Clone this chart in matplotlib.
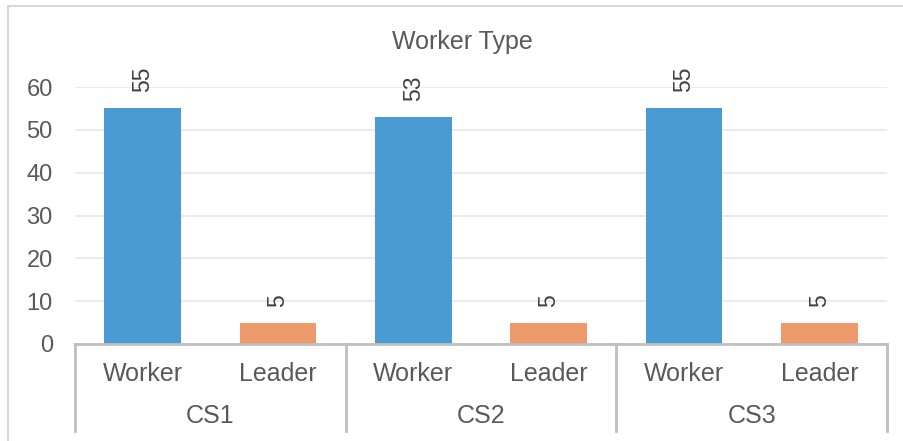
import matplotlib
matplotlib.use("Agg")
import matplotlib.pyplot as plt
from matplotlib.patches import Rectangle
from matplotlib.lines import Line2D

plt.rcParams['font.family'] = ['Liberation Sans', 'DejaVu Sans']

groups = ["CS1", "CS2", "CS3"]
types = ["Worker", "Leader"]
values = [55, 5, 53, 5, 55, 5]
colors = ["#4A9BD4", "#EF9A6C"]
title = "Worker Type"
yticks = [0, 10, 20, 30, 40, 50, 60]

W, H = 904, 441
fig = plt.figure(figsize=(W / 100, H / 100), dpi=100)

def fx(px):
    return px / W

def fy(py):
    return 1 - py / H

# chart border
fig.patches.append(Rectangle((fx(8), fy(460)), fx(950) - fx(8), fy(6) - fy(460),
                             transform=fig.transFigure, fill=False,
                             edgecolor="#D9D9D9", linewidth=1.5))

left, right, top, bottom = 75, 887, 87, 344
ax = fig.add_axes([fx(left), fy(bottom), fx(right) - fx(left), fy(top) - fy(bottom)])

def ay(py):
    return (bottom - py) / (bottom - top)

n = len(values)
xs = [i + 0.5 for i in range(n)]
bar_colors = [colors[i % 2] for i in range(n)]
ax.bar(xs, values, width=0.565, color=bar_colors, zorder=3)
for x, v in zip(xs, values):
    ax.annotate(str(v), (x, v), xytext=(0, 11.5), textcoords="offset points",
                rotation=90, ha="center", va="bottom", fontsize=16.5,
                color="#404040", annotation_clip=False)

ax.set_xlim(0, n)
ax.set_ylim(0, 60)
ax.set_yticks(yticks)
ax.set_yticklabels([str(t) for t in yticks], fontsize=17, color="#595959")
ax.tick_params(axis="y", length=0, pad=16)
ax.tick_params(axis="x", length=0, labelbottom=False)
ax.grid(axis="y", color="#EBEBEB", linewidth=1.5, zorder=0)
for s in ["top", "right", "left"]:
    ax.spines[s].set_visible(False)
ax.spines["bottom"].set_color("#BFBFBF")
ax.spines["bottom"].set_linewidth(2)
ax.spines["bottom"].set_zorder(4)

trans = ax.get_xaxis_transform()
# multi-level category axis separators
for i in range(len(groups) + 1):
    ax.add_line(Line2D([2 * i, 2 * i], [0, ay(431)], transform=trans,
                       color="#BFBFBF", linewidth=2, clip_on=False))

for i, x in enumerate(xs):
    ax.text(x, ay(374), types[i % 2], transform=trans, ha="center", va="center",
            fontsize=18, color="#595959")
for g, name in enumerate(groups):
    ax.text(2 * g + 1, ay(416), name, transform=trans, ha="center", va="center",
            fontsize=18, color="#595959")

fig.text(fx(462), fy(42), title, ha="center", va="center", fontsize=18, color="#595959")

fig.savefig("out.png", dpi=100)
